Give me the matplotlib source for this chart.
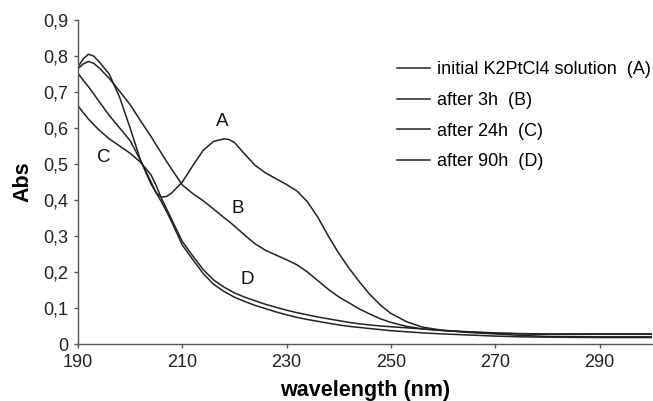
import numpy as np
import matplotlib
matplotlib.use("Agg")
import matplotlib.pyplot as plt
from matplotlib.ticker import FuncFormatter

plt.rcParams['font.family'] = ['Liberation Sans', 'DejaVu Sans']

# wavelength grid (nm) shared by all four spectra
wavelength = [190, 191, 192, 193, 194, 196, 198, 200, 202, 204, 205, 206, 207, 208,
              210, 212, 214, 216, 218, 219, 220, 222, 224, 226, 228, 230, 232, 234,
              236, 238, 240, 242, 244, 246, 248, 250, 253, 256, 260, 265, 270, 275,
              280, 290, 300]

# (A) initial K2PtCl4 solution
abs_a = [0.770, 0.792, 0.805, 0.800, 0.785, 0.750, 0.685, 0.600, 0.510, 0.445, 0.420,
         0.408, 0.410, 0.420, 0.450, 0.495, 0.538, 0.563, 0.570, 0.568, 0.560, 0.527,
         0.496, 0.475, 0.459, 0.443, 0.425, 0.395, 0.352, 0.300, 0.252, 0.210, 0.172,
         0.137, 0.108, 0.085, 0.062, 0.047, 0.038, 0.032, 0.028, 0.024, 0.021, 0.020,
         0.020]

# (B) after 3h
abs_b = [0.765, 0.778, 0.785, 0.780, 0.768, 0.738, 0.702, 0.665, 0.620, 0.577, 0.553,
         0.530, 0.507, 0.485, 0.442, 0.418, 0.398, 0.375, 0.351, 0.340, 0.328, 0.302,
         0.278, 0.260, 0.247, 0.234, 0.220, 0.200, 0.176, 0.152, 0.131, 0.114, 0.097,
         0.083, 0.070, 0.060, 0.049, 0.042, 0.037, 0.033, 0.030, 0.029, 0.028, 0.028,
         0.028]

# (C) after 24h
abs_c = [0.662, 0.643, 0.625, 0.610, 0.595, 0.570, 0.550, 0.530, 0.505, 0.470, 0.440,
         0.405, 0.375, 0.345, 0.285, 0.245, 0.207, 0.178, 0.158, 0.150, 0.142, 0.130,
         0.120, 0.110, 0.102, 0.094, 0.087, 0.081, 0.075, 0.070, 0.065, 0.060, 0.056,
         0.053, 0.050, 0.048, 0.045, 0.042, 0.038, 0.034, 0.031, 0.028, 0.027, 0.027,
         0.027]

# (D) after 90h
abs_d = [0.752, 0.733, 0.715, 0.695, 0.675, 0.635, 0.600, 0.565, 0.510, 0.450, 0.420,
         0.395, 0.368, 0.338, 0.275, 0.235, 0.196, 0.166, 0.146, 0.138, 0.130, 0.118,
         0.107, 0.098, 0.089, 0.081, 0.074, 0.068, 0.063, 0.058, 0.053, 0.049, 0.046,
         0.043, 0.040, 0.037, 0.034, 0.031, 0.028, 0.025, 0.022, 0.020, 0.019, 0.018,
         0.018]

series = [abs_a, abs_b, abs_c, abs_d]
legend_labels = ['initial K2PtCl4 solution  (A)', 'after 3h  (B)',
                 'after 24h  (C)', 'after 90h  (D)']

# curve letters and where they sit (nm, Abs)
curve_letters = ['A', 'B', 'C', 'D']
letter_x = [217.6, 220.7, 194.9, 222.4]
letter_y = [0.618, 0.377, 0.518, 0.178]

x_ticks = [190, 210, 230, 250, 270, 290]
y_ticks = [0, 0.1, 0.2, 0.3, 0.4, 0.5, 0.6, 0.7, 0.8, 0.9]

fig = plt.figure(figsize=(6.53, 4.01), dpi=100)
ax = fig.add_axes([0.1194, 0.1421, 0.8786, 0.8079])

line_color = '#222222'
for vals, lab in zip(series, legend_labels):
    ax.plot(wavelength, vals, color=line_color, lw=1.1, label=lab)

for let, lx, ly in zip(curve_letters, letter_x, letter_y):
    ax.text(lx, ly, let, fontsize=13.5, ha='center', va='center', color='#111111')

ax.set_xlim(190, 300)
ax.set_ylim(0, 0.9)
ax.set_xticks(x_ticks)
ax.set_yticks(y_ticks)
# comma as decimal separator like the original
ax.yaxis.set_major_formatter(FuncFormatter(lambda v, p: '0' if v == 0 else ('%.1f' % v).replace('.', ',')))

for side in ['top', 'right']:
    ax.spines[side].set_visible(False)
for side in ['left', 'bottom']:
    ax.spines[side].set_color('#555555')
    ax.spines[side].set_linewidth(1.0)

ax.tick_params(axis='both', direction='out', length=3, width=1.0, color='#555555',
               labelsize=13, labelcolor='#222222', pad=4)

ax.set_xlabel('wavelength (nm)', fontsize=15.5, fontweight='bold', labelpad=7)
ax.set_ylabel('Abs', fontsize=15.5, fontweight='bold', labelpad=7)

ax.legend(loc='upper left', bbox_to_anchor=(0.544, 0.895), frameon=False,
          fontsize=13, handlelength=1.8, handletextpad=0.42, labelspacing=0.76,
          borderaxespad=0)

fig.savefig('out.png', dpi=100)
